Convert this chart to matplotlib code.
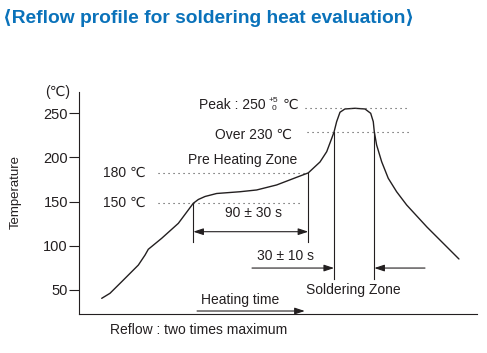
import matplotlib
matplotlib.use('Agg')
import matplotlib.pyplot as plt

# datos (tiempo en s, temperatura en C)
time_s = [17.6, 24.0, 33.1, 46.0, 51.2, 53.7, 64.1, 77.0, 88.6, 92.5, 97.7, 106.7,
          124.8, 137.7, 153.2, 168.7, 177.7, 186.8, 192.0, 195.9, 197.7, 199.7, 202.3,
          206.1, 213.9, 221.7, 226.1, 228.1, 228.9, 230.7, 234.6, 239.7, 246.2, 254.0,
          269.7, 294.5]
temp_c = [40.0, 45.7, 58.9, 77.8, 89.2, 95.7, 108.2, 125.2, 148.0, 152.3, 155.7, 159.1,
          161.1, 163.1, 168.8, 177.5, 182.5, 194.9, 206.6, 221.8, 229.0, 240.7, 251.4,
          255.1, 255.9, 255.1, 250.2, 240.7, 229.0, 214.2, 195.2, 176.4, 161.1, 146.0,
          121.0, 84.7]

yticks = [50, 100, 150, 200, 250]

# niveles de las lineas punteadas
pre_lo = 148.0
pre_hi = 182.5
over_lvl = 229.0
peak_lvl = 256.0

# zonas
pre_start, pre_end = 88.6, 177.7
sol_start, sol_end = 197.7, 228.9

ink = '#231f20'
blue = '#0a72ba'
fam = ['Liberation Sans', 'DejaVu Sans']
plt.rcParams['font.family'] = fam

W, H = 487, 353
fig = plt.figure(figsize=(W / 100, H / 100), dpi=100)
ax = fig.add_axes([79 / W, 1 - 314 / H, 398 / W, 222 / H])
ax.set_xlim(0, 308.5)
ax.set_ylim(22.2, 274.4)

# curva de reflow
ax.plot(time_s, temp_c, color=ink, lw=1.0, solid_capstyle='round', solid_joinstyle='round')

# lineas punteadas
dots = dict(color='#444444', lw=0.8, linestyle=(0, (1, 3.5)))
ax.plot([61.2, pre_end], [pre_hi, pre_hi], **dots)
ax.plot([61.2, 173.6], [pre_lo, pre_lo], **dots)
ax.plot([175.0, 256.5], [peak_lvl, peak_lvl], **dots)
ax.plot([176.7, 256.5], [over_lvl, over_lvl], **dots)

# lineas verticales
ax.plot([pre_start, pre_start], [pre_lo, 104.3], color=ink, lw=0.8)
ax.plot([pre_end, pre_end], [pre_hi, 104.3], color=ink, lw=0.8)
ax.plot([sol_start, sol_start], [over_lvl, 61.6], color=ink, lw=0.8)
ax.plot([sol_end, sol_end], [over_lvl, 61.6], color=ink, lw=0.8)

# flechas
head = '-|>,head_length=0.6,head_width=0.2'
arr = dict(arrowstyle=head, color=ink, lw=0.8, mutation_scale=10, shrinkA=0, shrinkB=0)
arr2 = dict(arr, arrowstyle='<|-|>,head_length=0.6,head_width=0.2')
ax.annotate('', xy=(pre_end, 115.7), xytext=(pre_start, 115.7), arrowprops=arr2)
ax.annotate('', xy=(sol_start, 74.4), xytext=(134.1, 74.4), arrowprops=arr)
ax.annotate('', xy=(sol_end, 74.4), xytext=(268.2, 74.4), arrowprops=arr)
ax.annotate('', xy=(175.0, 25.6), xytext=(91.5, 25.6), arrowprops=arr)

# textos
fs = 10
ax.text(18.6, pre_hi, '180 ℃', fontsize=fs, color=ink, ha='left', va='center')
ax.text(18.6, pre_lo + 1, '150 ℃', fontsize=fs, color=ink, ha='left', va='center')
ax.text(169.0, 197.0, 'Pre Heating Zone', fontsize=fs, color=ink, ha='right', va='center')
ax.text(165.0, 225.6, 'Over 230 ℃', fontsize=fs, color=ink, ha='right', va='center')
ax.text(169.7, 259.7, '℃', fontsize=fs, color=ink, ha='right', va='center')
ax.annotate('Peak : 250', xy=(169.7, 259.7), xytext=(-23, 0), textcoords='offset points',
            fontsize=fs, color=ink, ha='right', va='center')
ax.annotate('+5', xy=(169.7, 259.7), xytext=(-17.5, 3.5), textcoords='offset points',
            fontsize=6, color=ink, ha='center', va='center')
ax.annotate('0', xy=(169.7, 259.7), xytext=(-17.5, -2.5), textcoords='offset points',
            fontsize=6, color=ink, ha='center', va='center')
ax.text(134.9, 137.0, '90 ± 30 s', fontsize=fs, color=ink, ha='center', va='center')
ax.text(159.7, 88.0, '30 ± 10 s', fontsize=fs, color=ink, ha='center', va='center')
ax.text(212.4, 49.4, 'Soldering Zone', fontsize=fs, color=ink, ha='center', va='center')
ax.text(124.8, 38.0, 'Heating time', fontsize=fs, color=ink, ha='center', va='center')

# ejes
ax.set_yticks(yticks)
ax.set_xticks([])
ax.tick_params(axis='y', length=7, width=0.8, pad=1, labelsize=10.5, colors=ink)
for s in ['top', 'right']:
    ax.spines[s].set_visible(False)
for s in ['left', 'bottom']:
    ax.spines[s].set_linewidth(0.8)
    ax.spines[s].set_color(ink)

fig.text(58 / W, 1 - 92 / H, '(℃)', fontsize=10, color=ink, ha='center', va='center')
fig.text(16 / W, 1 - 192 / H, 'Temperature', fontsize=9.5, color=ink, rotation=90,
         ha='center', va='center')
fig.text(110 / W, 1 - 330 / H, 'Reflow : two times maximum', fontsize=10, color=ink,
         ha='left', va='center')

# titulo
fig.text(3 / W, 1 - 18 / H, '⟨Reflow profile for soldering heat evaluation⟩',
         fontsize=13.8, fontweight='bold', color=blue, ha='left', va='center',
         family=['Liberation Sans', 'DejaVu Sans'])

fig.savefig('out.png', dpi=100)
